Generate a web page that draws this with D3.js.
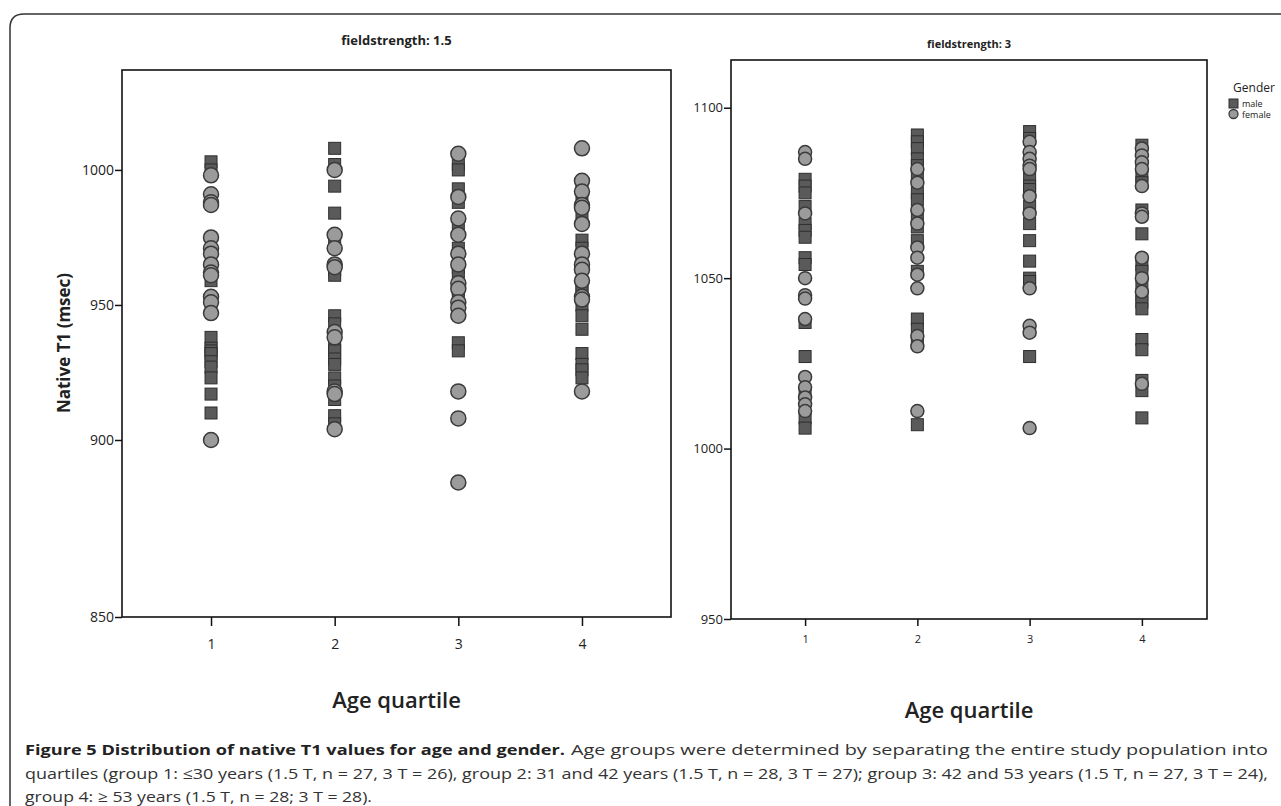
<!DOCTYPE html>
<html><head><meta charset="utf-8">
<script src="https://cdn.jsdelivr.net/npm/d3@7/dist/d3.min.js"></script>
<style>body{margin:0;background:#fff;} svg{display:block;}</style>
</head><body>
<svg id="c" width="1281" height="806"></svg>
<script>
const groups = [1, 2, 3, 4];
const leftTicks = [850, 900, 950, 1000];
const rightTicks = [950, 1000, 1050, 1100];
// 1.5 T values per age quartile
const male15 = [
  [1003, 1000, 959, 951, 938, 934, 933, 932, 929, 927, 923, 917, 910],
  [1008, 1002, 994, 984, 974, 963, 961, 946, 943, 935, 933, 930, 928, 923, 920, 915, 909, 906],
  [1002, 1000, 993, 988, 979, 971, 964, 961, 956, 953, 950, 936, 933],
  [993, 991, 984, 974, 971, 967, 957, 955, 950, 946, 941, 932, 928, 926, 923]
];
const female15 = [
  [998, 991, 988, 987, 975, 971, 969, 965, 962, 961, 953, 951, 947, 900],
  [1000, 976, 971, 965, 964, 940, 938, 918, 917, 904],
  [1006, 990, 982, 976, 969, 965, 958, 956, 951, 949, 946, 918, 908, 888],
  [1008, 996, 992, 987, 986, 980, 969, 965, 963, 959, 953, 952, 918]
];
// 3 T values per age quartile
const male3 = [
  [1079, 1077, 1075, 1071, 1066, 1064, 1062, 1056, 1054, 1037, 1027, 1016, 1009, 1006],
  [1092, 1090, 1088, 1085, 1083, 1080, 1075, 1073, 1068, 1065, 1061, 1052, 1038, 1035, 1031, 1007],
  [1093, 1091, 1086, 1080, 1077, 1076, 1071, 1066, 1061, 1055, 1050, 1049, 1027],
  [1089, 1083, 1080, 1078, 1070, 1063, 1054, 1052, 1048, 1045, 1043, 1041, 1032, 1029, 1020, 1017, 1009]
];
const female3 = [
  [1087, 1085, 1069, 1050, 1045, 1044, 1038, 1021, 1018, 1015, 1013, 1011],
  [1082, 1078, 1070, 1066, 1059, 1056, 1051, 1047, 1033, 1030, 1011],
  [1090, 1087, 1085, 1083, 1082, 1074, 1069, 1047, 1036, 1034, 1006],
  [1088, 1086, 1084, 1082, 1077, 1069, 1068, 1056, 1050, 1046, 1019]
];

const svg = d3.select('#c');
const FONT = "'Open Sans', 'DejaVu Sans', sans-serif";

// outer border
svg.append('path').attr('d', 'M10,806 V28 Q10,14 24,14 H1281')
  .attr('fill', 'none').attr('stroke', '#333').attr('stroke-width', 1.5);

function panel(cfg) {
  const x = d3.scaleLinear().domain(cfg.xdom).range([cfg.l, cfg.r]);
  const y = d3.scaleLinear().domain(cfg.dom).range(cfg.rng);
  const g = svg.append('g');
  g.append('rect').attr('x', cfg.l).attr('y', cfg.t).attr('width', cfg.r - cfg.l).attr('height', cfg.b - cfg.t)
    .attr('fill', 'none').attr('stroke', '#111').attr('stroke-width', 1.6);
  const ya = g.append('g').attr('transform', `translate(${cfg.l},0)`)
    .call(d3.axisLeft(y).tickValues(cfg.ticks).tickSize(7).tickFormat(d3.format('d')));
  ya.select('.domain').remove();
  ya.selectAll('line').attr('stroke', '#111').attr('stroke-width', 1.5);
  ya.selectAll('text').attr('font-family', FONT).attr('font-size', cfg.fs).attr('fill', '#222').attr('dx', 2);
  const xa = g.append('g').attr('transform', `translate(0,${cfg.b})`)
    .call(d3.axisBottom(x).tickValues(groups).tickSize(cfg.xts).tickFormat(d3.format('d')));
  xa.select('.domain').remove();
  xa.selectAll('line').attr('stroke', '#111').attr('stroke-width', 1.5);
  xa.selectAll('text').attr('font-family', FONT).attr('font-size', cfg.xfs).attr('fill', '#222').attr('dy', cfg.xdy);
  g.append('text').attr('x', (cfg.l + cfg.r) / 2).attr('y', cfg.t - cfg.titleGap)
    .attr('text-anchor', 'middle').attr('font-family', FONT).attr('font-weight', 'bold')
    .attr('font-size', cfg.titleFs).attr('fill', '#222').text(cfg.title);
  g.append('text').attr('x', (cfg.l + cfg.r) / 2).attr('y', cfg.xlabY)
    .attr('text-anchor', 'middle').attr('font-family', FONT).attr('font-weight', 600)
    .attr('font-size', 22).attr('fill', '#222').text('Age quartile');
  const s = cfg.sq;
  cfg.male.forEach((arr, i) => {
    g.selectAll(null).data(arr).enter().append('rect')
      .attr('x', x(groups[i]) - s / 2).attr('y', d => y(d) - s / 2)
      .attr('width', s).attr('height', s)
      .attr('fill', '#5a5a5a').attr('stroke', '#2e2e2e').attr('stroke-width', 1);
  });
  cfg.female.forEach((arr, i) => {
    g.selectAll(null).data(arr).enter().append('circle')
      .attr('cx', x(groups[i])).attr('cy', d => y(d)).attr('r', cfg.rad)
      .attr('fill', '#9b9b9b').attr('stroke', '#3a3a3a').attr('stroke-width', 1.5);
  });
}

panel({l: 122, r: 671, t: 70, b: 617, xdom: [0.28, 4.72], dom: [850, 900, 1037], rng: [617, 440, 70],
  ticks: leftTicks, fs: 14, xfs: 14, xts: 9, xdy: '1.45em',
  title: 'fieldstrength: 1.5', titleFs: 13, titleGap: 25, xlabY: 708,
  male: male15, female: female15, sq: 12, rad: 7.5});
panel({l: 731, r: 1207, t: 60, b: 619, xdom: [0.34, 4.58], dom: [950, 1114], rng: [619, 60],
  ticks: rightTicks, fs: 13, xfs: 11, xts: 7, xdy: '1.3em',
  title: 'fieldstrength: 3', titleFs: 11, titleGap: 12, xlabY: 718,
  male: male3, female: female3, sq: 12, rad: 6.5});

// y-axis title
svg.append('text').attr('transform', 'translate(70,343) rotate(-90)')
  .attr('text-anchor', 'middle').attr('font-family', FONT).attr('font-weight', 'bold')
  .attr('font-size', 17).attr('fill', '#222').text('Native T1 (msec)');

// legend
const lg = svg.append('g');
lg.append('text').attr('x', 1254).attr('y', 92).attr('text-anchor', 'middle')
  .attr('font-family', FONT).attr('font-size', 12).attr('fill', '#222').text('Gender');
lg.append('rect').attr('x', 1229).attr('y', 99).attr('width', 9).attr('height', 9)
  .attr('fill', '#5a5a5a').attr('stroke', '#2e2e2e');
lg.append('text').attr('x', 1242).attr('y', 107).attr('font-family', FONT).attr('font-size', 9)
  .attr('fill', '#222').text('male');
lg.append('circle').attr('cx', 1233.5).attr('cy', 114).attr('r', 4.5)
  .attr('fill', '#9b9b9b').attr('stroke', '#3a3a3a').attr('stroke-width', 1.3);
lg.append('text').attr('x', 1242).attr('y', 118).attr('font-family', FONT).attr('font-size', 9)
  .attr('fill', '#222').text('female');

// caption
const CF = "'Open Sans', 'DejaVu Sans', sans-serif";
const cap = svg.append('g').attr('font-family', CF).attr('font-size', 15).attr('fill', '#333');
cap.append('text').attr('x', 25).attr('y', 755).attr('font-weight', 'bold').attr('fill', '#222')
  .attr('textLength', 540).attr('lengthAdjust', 'spacingAndGlyphs')
  .text('Figure 5 Distribution of native T1 values for age and gender.');
cap.append('text').attr('x', 571).attr('y', 755)
  .attr('textLength', 697).attr('lengthAdjust', 'spacingAndGlyphs')
  .text('Age groups were determined by separating the entire study population into');
cap.append('text').attr('x', 25).attr('y', 779)
  .attr('textLength', 1243).attr('lengthAdjust', 'spacingAndGlyphs')
  .text('quartiles (group 1: \u226430 years (1.5 T, n = 27, 3 T = 26), group 2: 31 and 42 years (1.5 T, n = 28, 3 T = 27); group 3: 42 and 53 years (1.5 T, n = 27, 3 T = 24),');
cap.append('text').attr('x', 25).attr('y', 802)
  .attr('textLength', 347).attr('lengthAdjust', 'spacingAndGlyphs')
  .text('group 4: \u2265 53 years (1.5 T, n = 28; 3 T = 28).');
</script>
</body></html>
